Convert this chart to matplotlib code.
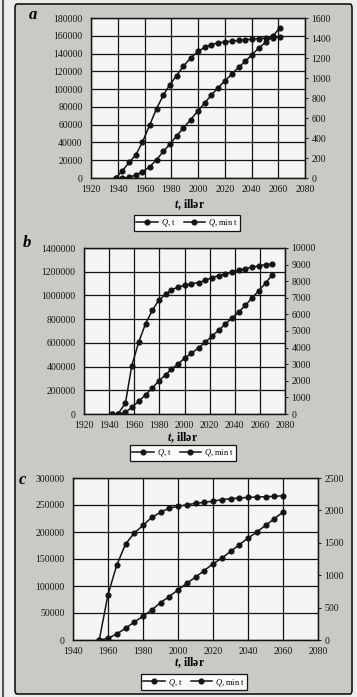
import matplotlib
matplotlib.use('Agg')
import matplotlib.pyplot as plt
from matplotlib.patches import FancyBboxPatch
from matplotlib.lines import Line2D
from matplotlib.ticker import FuncFormatter

plt.rcParams['font.family'] = ['Liberation Serif', 'DejaVu Serif']
plt.rcParams['mathtext.fontset'] = 'custom'
plt.rcParams['mathtext.it'] = 'Liberation Serif:italic'
plt.rcParams['mathtext.bf'] = 'Liberation Serif:bold:italic'
plt.rcParams['mathtext.rm'] = 'Liberation Serif'

# panel a
years_a = [1938.5, 1943.5, 1948.5, 1953.5, 1958.5, 1964, 1969, 1974, 1979,
           1984, 1989, 1994.5, 2000, 2005, 2010, 2015, 2020, 2025.5, 2030.5,
           2035.5, 2040.5, 2045.5, 2051, 2056, 2061]
q_t_a = [0, 8150, 17500, 26000, 40500, 60000, 78000, 93000, 105000, 115300,
         125700, 135000, 142500, 147000, 150000, 152000, 153000, 154000,
         154800, 155500, 156200, 156800, 157400, 158000, 158600]
q_min_a = [0, 0, 7, 30, 63, 113, 182, 266, 338, 421, 498, 584, 670, 750, 830,
           903, 969, 1042, 1108, 1168, 1235, 1301, 1361, 1417, 1500]

# panel b
years_b = [1942, 1947, 1953, 1958, 1963.5, 1969, 1974.5, 1979.5, 1985,
           1989.5, 1995, 2000, 2005.5, 2011.5, 2016.5, 2022, 2027.5, 2032.5,
           2038, 2043.5, 2048.5, 2054, 2059, 2064.5, 2070]
q_t_b = [0, 0, 92000, 406000, 605000, 762000, 876000, 960000, 1008000,
         1047000, 1070000, 1086000, 1098000, 1109000, 1128000, 1151000,
         1168000, 1182000, 1198000, 1212000, 1226000, 1238000, 1249000,
         1260000, 1266000]
q_min_b = [0, 0, 100, 400, 760, 1160, 1560, 2000, 2360, 2700, 3020, 3360,
           3660, 4000, 4320, 4700, 5060, 5420, 5800, 6160, 6560, 7000, 7420,
           7880, 8400]

# panel c
years_c = [1955, 1960, 1965, 1970, 1975, 1980, 1985, 1990, 1995, 2000, 2005,
           2010, 2015, 2020, 2025, 2030, 2035, 2040, 2045, 2050, 2055, 2060]
q_t_c = [0, 84100, 138600, 177500, 198000, 212200, 227000, 236300, 244300,
         247400, 250500, 253000, 254900, 257300, 259800, 261700, 262900,
         264100, 264800, 265400, 266000, 267200]
q_min_c = [0, 26, 93, 180, 278, 366, 464, 577, 670, 773, 876, 969, 1072,
           1175, 1263, 1366, 1469, 1572, 1665, 1768, 1871, 1974]

labels = ['$\\mathit{Q}$, t', '$\\mathit{Q}$, min t']

W, H = 357, 697
BG = '#c9c9c6'
PLOT_BG = '#f5f5f3'
INK = '#141414'
plain = FuncFormatter(lambda v, pos: '%d' % v)


def fig_box(x0, y0, x1, y1):
    """pixel box (top-left origin) -> figure fraction rect"""
    return [x0 / W, (H - y1) / H, (x1 - x0) / W, (y1 - y0) / H]


def draw_panel(fig, box, years, q_t, q_min, xlim, ymax_l, ystep_l,
               ymax_r, ystep_r, letter, letter_xy, xlabel_xy, legend_xy):
    ax = fig.add_axes(fig_box(*box))
    ax.set_facecolor(PLOT_BG)
    ax.plot(years, q_t, color=INK, lw=1.1, marker='o', ms=3.4)
    ax.set_xlim(*xlim)
    ax.set_ylim(0, ymax_l)
    ax.set_xticks(range(xlim[0], xlim[1] + 1, 20))
    ax.set_yticks(range(0, ymax_l + 1, ystep_l))
    ax.yaxis.set_major_formatter(plain)
    ax.grid(True, color=INK, lw=0.9)
    ax.set_axisbelow(True)
    ax.tick_params(axis='both', length=0, labelsize=7, colors=INK)
    ax.tick_params(axis='y', pad=6)
    ax.tick_params(axis='x', pad=5)

    ax2 = ax.twinx()
    ax2.plot(years, q_min, color=INK, lw=1.1, marker='o', ms=3.4)
    ax2.set_ylim(0, ymax_r)
    ax2.set_yticks(range(0, ymax_r + 1, ystep_r))
    ax2.yaxis.set_major_formatter(plain)
    ax2.tick_params(axis='y', length=2.5, width=0.7, direction='out',
                    labelsize=7, pad=2, colors=INK)
    for a in (ax, ax2):
        for s in a.spines.values():
            s.set_color(INK)
            s.set_linewidth(0.9)

    fig.text(letter_xy[0] / W, 1 - letter_xy[1] / H, letter, fontsize=12,
             fontweight='bold', fontstyle='italic', ha='center', va='center')
    fig.text(xlabel_xy[0] / W, 1 - xlabel_xy[1] / H,
             '$\\mathbf{t}$, illər', fontsize=8.5, fontweight='bold',
             ha='center', va='center')

    handles = [Line2D([], [], color=INK, lw=1.1, marker='o', ms=3.4)
               for _ in labels]
    leg = ax.legend(handles, labels, loc='center', ncol=2,
                    bbox_to_anchor=(legend_xy[0] / W, 1 - legend_xy[1] / H),
                    bbox_transform=fig.transFigure, fontsize=6,
                    frameon=True, fancybox=False, framealpha=1,
                    edgecolor=INK, handlelength=2.6, handletextpad=0.3,
                    columnspacing=1.0, borderpad=0.3, borderaxespad=0)
    leg.get_frame().set_linewidth(0.9)
    leg.get_frame().set_facecolor('#fbfbfa')
    return ax


fig = plt.figure(figsize=(W / 100, H / 100), dpi=100)
fig.patch.set_facecolor('#ededeb')
frame = FancyBboxPatch((15 / W, 3 / H), 337 / W, 690 / H,
                       boxstyle='round,pad=0,rounding_size=0.006',
                       transform=fig.transFigure, facecolor=BG,
                       edgecolor=INK, linewidth=1.2, zorder=-5)
fig.patches.append(frame)
fig.add_artist(Line2D([3 / W, 3 / W], [0, 1], color='#555555', lw=1.5,
                      transform=fig.transFigure, zorder=-5))

draw_panel(fig, (91, 18, 305, 178), years_a, q_t_a, q_min_a, (1920, 2080),
           180000, 20000, 1600, 200, 'a', (33, 15), (190, 205), (187, 223))
draw_panel(fig, (84, 248, 285, 414), years_b, q_t_b, q_min_b, (1920, 2080),
           1400000, 200000, 10000, 1000, 'b', (27, 243), (183, 438),
           (183, 453))
draw_panel(fig, (73, 478, 318, 640), years_c, q_t_c, q_min_c, (1940, 2080),
           300000, 50000, 2500, 500, 'c', (22, 480), (190, 663), (194, 682))

fig.savefig('out.png', dpi=100, facecolor=fig.get_facecolor())
